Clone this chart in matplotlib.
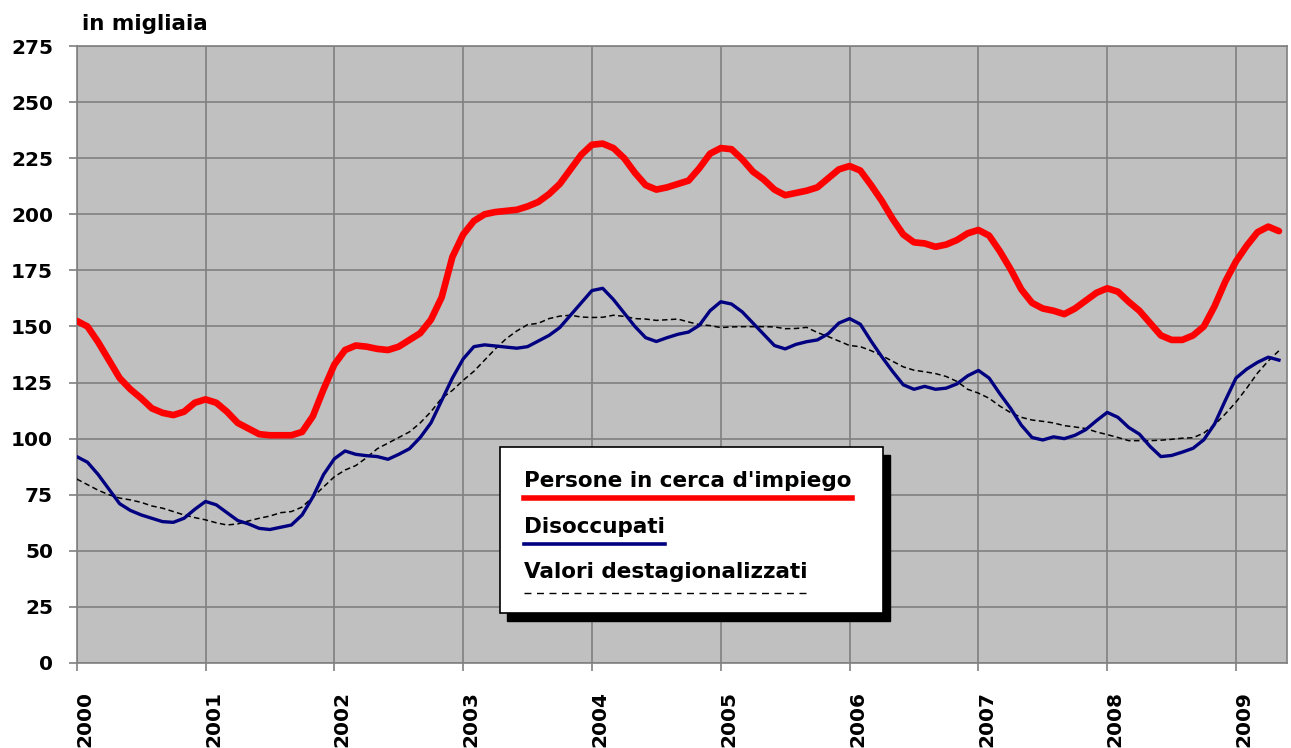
import matplotlib
matplotlib.use("Agg")
import matplotlib.pyplot as plt
import matplotlib.patches as mpatches
import matplotlib.transforms as mtransforms
from matplotlib.lines import Line2D
import numpy as np

# monthly values, Jan 2000 - May 2009 (thousands)
persone = [152.5, 150, 143, 135, 127, 122, 118, 113.5, 111.5, 110.5, 112, 116,
           117.5, 116, 112, 107, 104.5, 102, 101.5, 101.5, 101.5, 103, 110, 122,
           133, 139.5, 141.5, 141, 140, 139.5, 141, 144, 147, 153, 163, 181,
           191, 197, 200, 201, 201.5, 202, 203.5, 205.5, 209, 213.5, 220, 226.5,
           231, 231.5, 229.5, 225, 218.5, 213, 211, 212, 213.5, 215, 220.5, 227,
           229.5, 229, 224.5, 219, 215.5, 211, 208.5, 209.5, 210.5, 212, 216, 220,
           221.5, 219.5, 213, 206, 198, 191, 187.5, 187, 185.5, 186.5, 188.5, 191.5,
           193, 190.5, 183.5, 175.5, 166.5, 160.5, 158, 157, 155.5, 158, 161.5, 165,
           167, 165.5, 161, 157, 151.5, 146, 144, 144, 146, 150, 159, 170,
           179, 186, 192, 194.5, 192.5]

disoccupati = [92, 89.5, 84, 77.5, 71, 68, 66, 64.5, 63, 62.7, 64.5, 68.5,
               72, 70.5, 67, 63.5, 62, 60, 59.5, 60.5, 61.5, 66, 74, 84,
               91, 94.5, 93, 92.4, 92, 90.8, 93, 95.5, 100.5, 107, 117, 127,
               135.5, 141, 141.8, 141.3, 140.8, 140.3, 141, 143.5, 146, 149.5, 155, 160.5,
               166, 167, 162, 156, 150, 145, 143.3, 145, 146.5, 147.5, 150.5, 157,
               161, 160, 156.5, 151.5, 146.5, 141.5, 140, 142, 143.2, 144, 146.7, 151.5,
               153.5, 151, 143.5, 136.5, 130, 124, 122, 123.3, 122, 122.5, 124.4, 128,
               130.4, 127, 120, 113.5, 106, 100.5, 99.4, 100.8, 100, 101.5, 104, 108,
               111.7, 109.5, 105, 102, 96.5, 92, 92.5, 94, 95.7, 99.5, 106.5, 117,
               127, 131, 134, 136.3, 135]

destag = [82, 79.5, 77, 75, 73.5, 72.7, 71.6, 70, 69, 67.5, 66, 64.8,
          63.8, 62.5, 61.5, 62, 63.3, 64.5, 65.5, 67, 67.5, 69.5, 74, 78.5,
          83, 86, 88, 91.5, 95.5, 98, 100.5, 103, 107, 112, 118, 121.5,
          126, 130, 135, 140, 144.5, 148, 150.8, 151.4, 153.5, 154.6, 155, 154.2,
          154, 154.1, 155, 154.5, 153.5, 153.3, 152.7, 153, 153.3, 152, 150.8, 150.4,
          149.5, 149.8, 149.9, 149.9, 149.9, 149.8, 149, 149.1, 149.6, 147.3, 145.5, 143.5,
          141.5, 141, 139.2, 137, 134.5, 132, 130.5, 129.8, 129, 127.7, 125.5, 122,
          120.3, 118, 114.5, 111.6, 109.5, 108.3, 107.7, 107, 105.8, 105.2, 104.5, 103,
          101.8, 100.5, 99.1, 99.1, 99.1, 99.3, 99.7, 100.2, 100.4, 102.5, 106.2, 111,
          116.3, 122.5, 129.2, 134.6, 139.2]

years = ["2000", "2001", "2002", "2003", "2004", "2005", "2006", "2007", "2008", "2009"]
y_ticks = list(range(0, 276, 25))

legend_labels = ["Persone in cerca d'impiego", "Disoccupati", "Valori destagionalizzati"]

RED = "#FF0000"
NAVY = "#000080"
GRID = "#808080"
SILVER = "#C0C0C0"
FONT = "DejaVu Sans"

W, H = 1291, 748
fig = plt.figure(figsize=(W / 100, H / 100), dpi=100)
ax = fig.add_axes([76.7 / W, 1 - 663 / H, (1287 - 76.7) / W, (663 - 46) / H])
ax.set_facecolor(SILVER)

months = np.arange(len(persone))
ax.plot(months, destag, color="black", lw=1.1, dashes=(3.6, 2.2), zorder=3)
ax.plot(months, disoccupati, color=NAVY, lw=2.4, zorder=4, solid_joinstyle="round")
ax.plot(months, persone, color=RED, lw=4.8, zorder=5, solid_joinstyle="round",
        solid_capstyle="round")

ax.set_xlim(0, 112.75)
ax.set_ylim(0, 275)
ax.set_yticks(y_ticks)
ax.set_xticks(np.arange(len(years)) * 12)
ax.set_xticklabels(years, rotation=90, va="top", ha="center")
ax.grid(True, color=GRID, lw=1.2)
ax.set_axisbelow(True)
for s in ax.spines.values():
    s.set_color(GRID)
    s.set_linewidth(1.2)
ax.tick_params(axis="both", color=GRID, length=6, width=1.2)
ax.tick_params(axis="y", pad=11)
ax.tick_params(axis="x", pad=14)
for lbl in ax.get_yticklabels() + ax.get_xticklabels():
    lbl.set_fontfamily(FONT)
    lbl.set_fontweight("bold")
    lbl.set_fontsize(14.5)
shift = mtransforms.ScaledTranslation(8 / 100, 0, fig.dpi_scale_trans)
for lbl in ax.get_xticklabels():
    lbl.set_transform(lbl.get_transform() + shift)

fig.text(82 / W, 1 - 30 / H, "in migliaia", fontsize=15.5, fontweight="bold",
         family=FONT, ha="left", va="baseline")


# hand-built legend box with shadow
def px(x, y):
    return x / W, 1 - y / H


bx0, by0, bx1, by1 = 500, 447, 883, 613
fig.add_artist(mpatches.Rectangle(px(bx0 + 7, by1 + 8), (bx1 - bx0) / W, (by1 - by0) / H,
                                  transform=fig.transFigure, facecolor="black",
                                  edgecolor="black", zorder=10))
fig.add_artist(mpatches.Rectangle(px(bx0, by1), (bx1 - bx0) / W, (by1 - by0) / H,
                                  transform=fig.transFigure, facecolor="white",
                                  edgecolor="black", lw=1.2, zorder=11))

baselines = [486.7, 533.3, 578.3]
line_y = [498.3, 544, 593.3]
styles = [dict(color=RED, lw=4.0), dict(color=NAVY, lw=2.6),
          dict(color="black", lw=1.0, dashes=(5, 4))]
texts = []
for lab, yb in zip(legend_labels, baselines):
    texts.append(fig.text(*px(524, yb), lab, fontsize=15.5, fontweight="bold", family=FONT,
                          ha="left", va="baseline", zorder=12))
fig.canvas.draw()
r = fig.canvas.get_renderer()
for t, yl, st in zip(texts, line_y, styles):
    bb = t.get_window_extent(r)
    fig.add_artist(Line2D([bb.x0 / W, bb.x1 / W], [1 - yl / H] * 2,
                          transform=fig.transFigure, zorder=12, **st))

fig.savefig("out.png", dpi=100, facecolor="white")
